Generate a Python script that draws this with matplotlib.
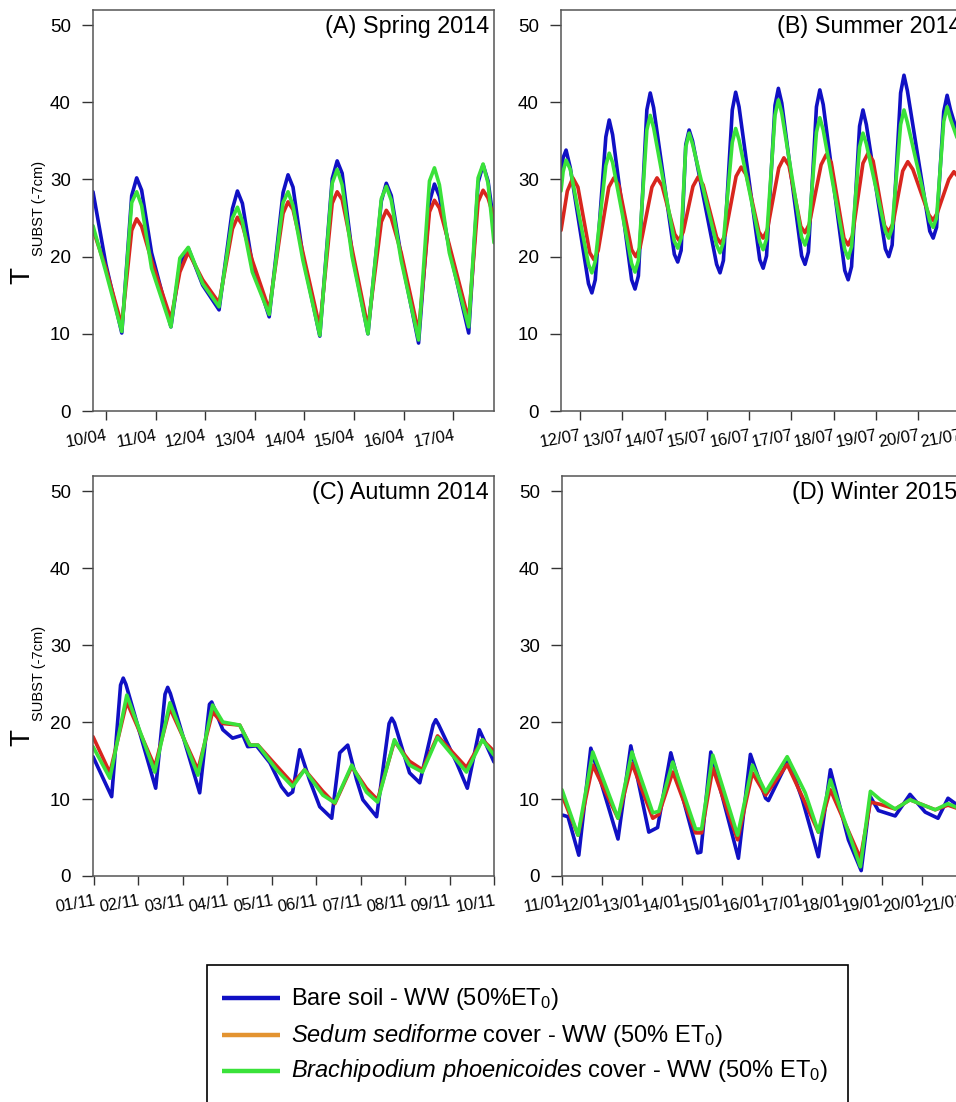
import matplotlib
matplotlib.use("Agg")
import matplotlib.pyplot as plt
import matplotlib.transforms as mtransforms
from matplotlib.lines import Line2D
from matplotlib.patches import Rectangle

plt.rcParams['font.family'] = ['Liberation Sans', 'DejaVu Sans']
plt.rcParams['mathtext.fontset'] = 'custom'
plt.rcParams['mathtext.rm'] = 'Liberation Sans'
plt.rcParams['mathtext.it'] = 'Liberation Sans:italic'

# ---- data (days from first tick, soil temperature at -7 cm in degC) ----
# (A) Spring 2014
a_labels = ["10/04", "11/04", "12/04", "13/04", "14/04", "15/04", "16/04", "17/04"]
a_t = [-0.26, 0.0, 0.32, 0.52, 0.62, 0.72, 0.92, 1.31, 1.49, 1.66, 1.95, 2.28, 2.55, 2.65,
       2.75, 2.95, 3.29, 3.57, 3.67, 3.77, 3.97, 4.31, 4.56, 4.66, 4.76, 4.96, 5.28, 5.55,
       5.65, 5.75, 5.95, 6.30, 6.52, 6.62, 6.72, 6.92, 7.31, 7.50, 7.60, 7.70, 7.82]
a_bare = [28.4, 19.0, 10.1, 27.9, 30.2, 28.6, 20.5, 10.9, 19.0, 21.1, 16.3, 13.1, 26.2, 28.5,
          26.9, 19.0, 12.2, 28.3, 30.6, 29.0, 20.0, 9.7, 30.1, 32.4, 30.8, 20.5, 10.0, 27.2,
          29.5, 27.9, 20.0, 8.8, 27.1, 29.4, 27.8, 21.0, 10.1, 29.6, 31.9, 29.8, 24.1]
a_sedum = [23.5, 18.5, 11.1, 23.4, 24.9, 23.9, 19.5, 11.9, 18.0, 20.6, 17.0, 14.0, 23.6, 25.1,
           24.1, 19.5, 13.1, 25.6, 27.1, 26.1, 20.5, 10.8, 26.9, 28.4, 27.4, 21.0, 10.8, 24.5,
           26.0, 25.0, 20.5, 10.2, 25.8, 27.3, 26.3, 21.5, 11.8, 27.1, 28.6, 27.6, 25.0]
a_brachy = [24.0, 18.0, 10.3, 27.0, 28.4, 26.6, 18.5, 10.9, 19.8, 21.2, 16.5, 13.5, 25.0, 26.4,
            24.6, 18.0, 12.5, 27.0, 28.4, 26.6, 19.5, 9.8, 29.5, 31.3, 29.3, 20.0, 10.0, 27.5,
            29.1, 27.3, 19.5, 9.2, 29.8, 31.5, 29.3, 20.5, 10.9, 30.2, 32.0, 29.5, 21.8]

# (B) Summer 2014
b_labels = ["12/07", "13/07", "14/07", "15/07", "16/07", "17/07", "18/07", "19/07", "20/07", "21/07"]
b_t = [-0.45, -0.40, -0.33, -0.23, 0.20, 0.28, 0.36, 0.61, 0.69, 0.77, 1.22, 1.30, 1.38,
       1.58, 1.66, 1.74, 2.23, 2.31, 2.39, 2.50, 2.58, 2.66, 3.23, 3.31, 3.39, 3.60, 3.68,
       3.76, 4.25, 4.33, 4.41, 4.61, 4.69, 4.77, 5.24, 5.32, 5.40, 5.59, 5.67, 5.75, 6.26,
       6.34, 6.42, 6.61, 6.69, 6.77, 7.22, 7.30, 7.38, 7.58, 7.66, 7.74, 8.27, 8.35, 8.43,
       8.60, 8.68, 8.76, 9.2]
b_bare = [30.3, 32.8, 33.8, 31.5, 16.5, 15.3, 17.0, 35.5, 37.7, 35.8, 17.0, 15.8, 17.5,
          39.0, 41.2, 39.3, 20.3, 19.3, 20.8, 34.5, 36.4, 35.0, 19.0, 17.9, 19.5, 39.0, 41.3,
          39.4, 19.6, 18.5, 20.1, 39.6, 41.8, 39.9, 20.1, 19.0, 20.6, 39.4, 41.6, 39.7, 18.2,
          17.0, 18.7, 36.9, 39.0, 37.1, 21.0, 20.0, 21.5, 41.2, 43.5, 41.5, 23.3, 22.4, 23.8,
          38.8, 40.9, 39.0, 31.0]
b_brachy = [28.5, 31.0, 32.5, 31.3, 19.0, 17.9, 19.4, 31.8, 33.4, 32.2, 19.1, 18.0, 19.5,
            36.4, 38.3, 36.7, 22.0, 21.1, 22.4, 34.2, 36.0, 34.6, 21.5, 20.5, 21.9, 34.8, 36.6,
            35.1, 21.9, 20.9, 22.3, 38.3, 40.3, 38.6, 22.5, 21.5, 22.9, 36.1, 38.0, 36.4, 20.9,
            19.8, 21.3, 34.2, 36.0, 34.6, 23.3, 22.4, 23.7, 37.1, 39.0, 37.4, 24.6, 23.8, 25.0,
            37.5, 39.4, 37.8, 31.0]
b_t_sedum = [-0.45, -0.30, -0.17, -0.05, 0.23, 0.33, 0.43, 0.68, 0.80, 0.92, 1.22, 1.32, 1.42,
             1.70, 1.82, 1.94, 2.24, 2.34, 2.44, 2.67, 2.79, 2.91, 3.23, 3.33, 3.43, 3.69, 3.81,
             3.93, 4.23, 4.33, 4.43, 4.70, 4.82, 4.94, 5.22, 5.32, 5.42, 5.70, 5.82, 5.94, 6.24,
             6.34, 6.44, 6.69, 6.81, 6.93, 7.20, 7.30, 7.40, 7.63, 7.75, 7.87, 8.25, 8.35, 8.45,
             8.72, 8.84, 8.96, 9.2]
b_sedum = [23.4, 28.5, 30.2, 29.0, 20.5, 19.6, 20.8, 29.0, 30.2, 29.2, 20.9, 20.0, 21.2,
           29.0, 30.2, 29.2, 22.9, 22.1, 23.2, 29.1, 30.3, 29.3, 22.5, 21.7, 22.8, 30.4, 31.6,
           30.6, 23.2, 22.4, 23.5, 31.5, 32.8, 31.8, 23.9, 23.1, 24.2, 31.9, 33.2, 32.2, 22.4,
           21.5, 22.7, 32.1, 33.4, 32.4, 24.0, 23.2, 24.3, 31.1, 32.3, 31.3, 25.4, 24.7, 25.7,
           30.0, 31.0, 30.2, 28.5]

# (C) Autumn 2014
c_labels = ["01/11", "02/11", "03/11", "04/11", "05/11", "06/11", "07/11", "08/11", "09/11", "10/11"]
c_t_bare = [-0.02, 0.40, 0.60, 0.66, 0.72, 1.39, 1.60, 1.66, 1.72, 2.38, 2.60, 2.65, 2.90,
            3.12, 3.35, 3.46, 3.66, 3.96, 4.22, 4.37, 4.47, 4.63, 4.85, 5.08, 5.35, 5.53,
            5.71, 5.91, 6.05, 6.36, 6.64, 6.70, 6.76, 7.10, 7.33, 7.63, 7.69, 7.75, 8.16,
            8.40, 8.67, 9.0]
c_bare = [15.5, 10.3, 24.8, 25.7, 24.9, 11.4, 23.6, 24.5, 23.7, 10.8, 22.3, 22.6, 19.0,
          17.9, 18.3, 16.8, 16.9, 14.7, 11.6, 10.5, 10.9, 16.4, 12.5, 9.0, 7.5, 16.0,
          17.0, 12.5, 9.9, 7.7, 19.8, 20.5, 19.9, 13.4, 12.1, 19.6, 20.3, 19.7, 14.7,
          11.4, 19.0, 14.8]
c_t = [-0.02, 0.36, 0.74, 1.37, 1.71, 2.34, 2.67, 2.90, 3.28, 3.51, 3.69, 4.11, 4.47,
       4.74, 5.15, 5.42, 5.80, 6.13, 6.38, 6.76, 7.10, 7.39, 7.73, 8.38, 8.74, 9.0]
c_sedum = [18.1, 13.4, 22.6, 14.2, 21.8, 13.8, 21.3, 19.8, 19.6, 17.0, 17.0, 14.3, 12.0,
           13.8, 11.0, 9.4, 14.2, 11.4, 9.9, 17.5, 14.9, 13.8, 18.2, 14.1, 17.7, 16.2]
c_brachy = [16.8, 12.7, 23.5, 13.5, 22.5, 13.1, 22.2, 20.0, 19.6, 17.0, 17.0, 13.8, 11.6,
            13.8, 10.5, 9.5, 14.4, 10.9, 9.6, 17.7, 14.4, 13.5, 18.0, 13.5, 17.7, 15.7]

# (D) Winter 2015
d_labels = ["11/01", "12/01", "13/01", "14/01", "15/01", "16/01", "17/01", "18/01", "19/01", "20/01", "21/01"]
d_t_bare = [0.02, 0.15, 0.42, 0.72, 1.40, 1.72, 2.17, 2.39, 2.72, 3.39, 3.47, 3.72, 4.41,
            4.71, 5.09, 5.16, 5.66, 6.01, 6.41, 6.71, 7.16, 7.48, 7.71, 7.91, 8.33, 8.70,
            9.08, 9.40, 9.65, 10.1]
d_bare = [7.9, 7.7, 2.7, 16.6, 4.8, 16.9, 5.7, 6.3, 16.0, 3.0, 3.1, 16.1, 2.3,
          15.8, 10.1, 9.8, 15.1, 9.9, 2.5, 13.8, 4.7, 0.7, 10.3, 8.5, 7.8, 10.6,
          8.3, 7.5, 10.1, 8.4]
d_t = [0.0, 0.40, 0.77, 1.40, 1.75, 2.27, 2.42, 2.77, 3.34, 3.49, 3.77, 4.39, 4.76,
       5.09, 5.63, 6.08, 6.41, 6.71, 7.46, 7.71, 7.96, 8.33, 8.70, 9.33, 9.65, 10.1]
d_sedum = [10.5, 5.3, 14.4, 7.5, 14.6, 7.5, 8.0, 13.5, 5.6, 5.6, 14.0, 4.7, 13.4,
           10.5, 14.5, 9.5, 5.7, 11.2, 2.3, 9.6, 9.3, 8.7, 9.9, 8.6, 9.2, 8.4]
d_brachy = [11.2, 5.3, 16.1, 7.5, 16.1, 8.2, 8.4, 14.8, 6.1, 6.1, 15.7, 5.3, 14.4,
            10.9, 15.5, 10.8, 5.7, 12.5, 1.2, 11.0, 9.9, 8.7, 9.9, 8.6, 9.4, 8.4]

legend_names = [r"Bare soil - WW (50%ET$_0$)",
                r"$\it{Sedum\ sediforme}$ cover - WW (50% ET$_0$)",
                r"$\it{Brachipodium\ phoenicoides}$ cover - WW (50% ET$_0$)"]

BLUE = "#1010c4"
RED = "#d8261e"
GREEN = "#3ae23a"
ORANGE = "#e39330"
LW = 2.6

W, H = 956, 1102
fig = plt.figure(figsize=(W / 100, H / 100), dpi=100)
shift = mtransforms.ScaledTranslation(-8 / 100, 0, fig.dpi_scale_trans)


def make_axes(left, top, width, height):
    return fig.add_axes([left / W, 1 - (top + height) / H, width / W, height / H])


def style(ax, labels, xlim, title):
    ax.set_xlim(*xlim)
    ax.set_ylim(0, 51.95)
    ax.set_yticks([0, 10, 20, 30, 40, 50])
    ax.set_xticks(range(len(labels)))
    ax.set_xticklabels(labels, rotation=10, ha="right", va="top", rotation_mode="anchor")
    for lbl in ax.get_xticklabels():
        lbl.set_transform(lbl.get_transform() + shift)
    ax.tick_params(axis="y", length=8, width=1, labelsize=13.5, pad=8, color="#333333")
    ax.tick_params(axis="x", length=6.5, width=1, labelsize=12, pad=6, color="#333333")
    for s in ax.spines.values():
        s.set_color("#555555")
        s.set_linewidth(1.1)
    ax.text(0.987, 0.988, title, transform=ax.transAxes, ha="right", va="top", fontsize=16.8)


def draw(ax, tb, vb, ts, vs, tg, vg):
    kw = dict(lw=LW, solid_joinstyle="round", solid_capstyle="round")
    ax.plot(tb, vb, color=BLUE, **kw)
    ax.plot(ts, vs, color=RED, **kw)
    ax.plot(tg, vg, color=GREEN, **kw)


ax_a = make_axes(93, 10, 401, 401)
draw(ax_a, a_t, a_bare, a_t, a_sedum, a_t, a_brachy)
style(ax_a, a_labels, (-0.26, 7.82), "(A) Spring 2014")

ax_b = make_axes(561, 10, 406, 401)
draw(ax_b, b_t, b_bare, b_t_sedum, b_sedum, b_t, b_brachy)
style(ax_b, b_labels, (-0.45, 9.15), "(B) Summer 2014")

ax_c = make_axes(93, 476, 401, 400)
draw(ax_c, c_t_bare, c_bare, c_t, c_sedum, c_t, c_brachy)
style(ax_c, c_labels, (-0.02, 9.0), "(C) Autumn 2014")

ax_d = make_axes(562, 476, 400, 400)
draw(ax_d, d_t_bare, d_bare, d_t, d_sedum, d_t, d_brachy)
style(ax_d, d_labels, (0, 9.98), "(D) Winter 2015")

# y axis labels: T with subscript
for yc_t, yc_s in [(275, 208), (737, 673)]:
    fig.text(22 / W, 1 - yc_t / H, "T", rotation=90, fontsize=20, ha="center", va="center")
    fig.text(39 / W, 1 - yc_s / H, "SUBST (-7cm)", rotation=90, fontsize=10.5,
             ha="center", va="center")

# legend box, drawn in figure pixels
fig.patches.append(Rectangle((207 / W, 1 - 1104 / H), 641 / W, 139 / H,
                             transform=fig.transFigure, fill=False, ec="black", lw=1.2))
for color, name, y_line, y_base in zip([BLUE, ORANGE, GREEN], legend_names,
                                       [998, 1035, 1071], [1005, 1042, 1077]):
    fig.add_artist(Line2D([222 / W, 280 / W], [1 - y_line / H] * 2, transform=fig.transFigure,
                          color=color, lw=3.2, solid_capstyle="butt"))
    fig.text(291 / W, 1 - y_base / H, name, fontsize=17, ha="left", va="baseline")

fig.savefig("out.png", dpi=100)
